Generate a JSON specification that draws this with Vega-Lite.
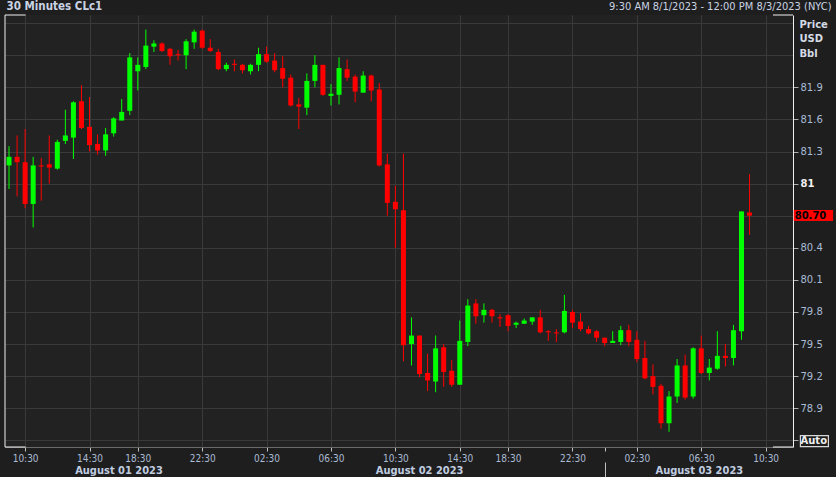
{
  "$schema": "https://vega.github.io/schema/vega-lite/v6.json",
  "width": 788,
  "height": 432,
  "autosize": {"type": "none"},
  "padding": {"left": 5, "top": 15, "right": 43, "bottom": 30},
  "background": "#1e1e1e",
  "view": {"fill": "#222222", "stroke": null},
  "data": {"values": [
    {"i":0,"o":81.17,"h":81.35,"l":80.95,"c":81.25},
    {"i":1,"o":81.25,"h":81.45,"l":80.88,"c":81.20},
    {"i":2,"o":81.20,"h":81.51,"l":80.77,"c":80.81},
    {"i":3,"o":80.81,"h":81.25,"l":80.59,"c":81.17},
    {"i":4,"o":81.17,"h":81.24,"l":80.84,"c":81.16},
    {"i":5,"o":81.18,"h":81.45,"l":81.00,"c":81.15},
    {"i":6,"o":81.14,"h":81.41,"l":81.13,"c":81.39},
    {"i":7,"o":81.40,"h":81.69,"l":81.37,"c":81.45},
    {"i":8,"o":81.43,"h":81.77,"l":81.23,"c":81.76},
    {"i":9,"o":81.77,"h":81.92,"l":81.51,"c":81.52},
    {"i":10,"o":81.53,"h":81.81,"l":81.30,"c":81.36},
    {"i":11,"o":81.37,"h":81.46,"l":81.27,"c":81.31},
    {"i":12,"o":81.31,"h":81.52,"l":81.26,"c":81.46},
    {"i":13,"o":81.47,"h":81.62,"l":81.44,"c":81.61},
    {"i":14,"o":81.59,"h":81.79,"l":81.59,"c":81.67},
    {"i":15,"o":81.68,"h":82.22,"l":81.64,"c":82.18},
    {"i":16,"o":82.05,"h":82.18,"l":81.87,"c":82.11},
    {"i":17,"o":82.09,"h":82.44,"l":82.07,"c":82.29},
    {"i":18,"o":82.28,"h":82.34,"l":82.23,"c":82.31},
    {"i":19,"o":82.31,"h":82.32,"l":82.23,"c":82.24},
    {"i":20,"o":82.26,"h":82.27,"l":82.11,"c":82.19},
    {"i":21,"o":82.21,"h":82.25,"l":82.15,"c":82.20},
    {"i":22,"o":82.20,"h":82.35,"l":82.07,"c":82.33},
    {"i":23,"o":82.32,"h":82.44,"l":82.26,"c":82.42},
    {"i":24,"o":82.43,"h":82.44,"l":82.26,"c":82.27},
    {"i":25,"o":82.27,"h":82.35,"l":82.23,"c":82.24},
    {"i":26,"o":82.23,"h":82.26,"l":82.06,"c":82.07},
    {"i":27,"o":82.07,"h":82.13,"l":82.05,"c":82.11},
    {"i":28,"o":82.12,"h":82.16,"l":82.05,"c":82.11},
    {"i":29,"o":82.11,"h":82.12,"l":82.03,"c":82.06},
    {"i":30,"o":82.05,"h":82.12,"l":82.02,"c":82.11},
    {"i":31,"o":82.11,"h":82.27,"l":82.05,"c":82.21},
    {"i":32,"o":82.21,"h":82.28,"l":82.13,"c":82.14},
    {"i":33,"o":82.15,"h":82.22,"l":82.04,"c":82.06},
    {"i":34,"o":82.08,"h":82.19,"l":81.90,"c":81.98},
    {"i":35,"o":81.99,"h":82.02,"l":81.72,"c":81.73},
    {"i":36,"o":81.74,"h":81.80,"l":81.51,"c":81.72},
    {"i":37,"o":81.71,"h":82.03,"l":81.64,"c":81.96},
    {"i":38,"o":81.96,"h":82.20,"l":81.90,"c":82.11},
    {"i":39,"o":82.11,"h":82.11,"l":81.82,"c":81.83},
    {"i":40,"o":81.82,"h":81.93,"l":81.73,"c":81.84},
    {"i":41,"o":81.83,"h":82.18,"l":81.74,"c":82.08},
    {"i":42,"o":82.07,"h":82.16,"l":81.96,"c":81.99},
    {"i":43,"o":82.00,"h":82.02,"l":81.76,"c":81.86},
    {"i":44,"o":81.85,"h":82.05,"l":81.85,"c":82.01},
    {"i":45,"o":82.01,"h":82.02,"l":81.77,"c":81.87},
    {"i":46,"o":81.88,"h":81.94,"l":81.16,"c":81.17},
    {"i":47,"o":81.18,"h":81.28,"l":80.70,"c":80.82},
    {"i":48,"o":80.83,"h":80.98,"l":80.40,"c":80.76},
    {"i":49,"o":80.75,"h":81.28,"l":79.34,"c":79.49},
    {"i":50,"o":79.50,"h":79.75,"l":79.30,"c":79.58},
    {"i":51,"o":79.58,"h":79.58,"l":79.19,"c":79.22},
    {"i":52,"o":79.23,"h":79.41,"l":79.06,"c":79.16},
    {"i":53,"o":79.15,"h":79.58,"l":79.05,"c":79.46},
    {"i":54,"o":79.47,"h":79.50,"l":79.10,"c":79.24},
    {"i":55,"o":79.25,"h":79.35,"l":79.10,"c":79.12},
    {"i":56,"o":79.12,"h":79.72,"l":79.12,"c":79.53},
    {"i":57,"o":79.52,"h":79.92,"l":79.48,"c":79.86},
    {"i":58,"o":79.88,"h":79.92,"l":79.69,"c":79.76},
    {"i":59,"o":79.77,"h":79.88,"l":79.70,"c":79.82},
    {"i":60,"o":79.82,"h":79.83,"l":79.70,"c":79.76},
    {"i":61,"o":79.75,"h":79.78,"l":79.66,"c":79.74},
    {"i":62,"o":79.77,"h":79.78,"l":79.62,"c":79.67},
    {"i":63,"o":79.68,"h":79.71,"l":79.65,"c":79.70},
    {"i":64,"o":79.69,"h":79.74,"l":79.69,"c":79.72},
    {"i":65,"o":79.71,"h":79.75,"l":79.68,"c":79.75},
    {"i":66,"o":79.75,"h":79.82,"l":79.60,"c":79.61},
    {"i":67,"o":79.62,"h":79.63,"l":79.53,"c":79.61},
    {"i":68,"o":79.61,"h":79.64,"l":79.52,"c":79.60},
    {"i":69,"o":79.61,"h":79.96,"l":79.60,"c":79.81},
    {"i":70,"o":79.80,"h":79.82,"l":79.65,"c":79.70},
    {"i":71,"o":79.71,"h":79.79,"l":79.62,"c":79.64},
    {"i":72,"o":79.64,"h":79.67,"l":79.59,"c":79.60},
    {"i":73,"o":79.62,"h":79.63,"l":79.52,"c":79.56},
    {"i":74,"o":79.56,"h":79.56,"l":79.48,"c":79.51},
    {"i":75,"o":79.51,"h":79.62,"l":79.51,"c":79.53},
    {"i":76,"o":79.52,"h":79.67,"l":79.49,"c":79.63},
    {"i":77,"o":79.63,"h":79.68,"l":79.48,"c":79.52},
    {"i":78,"o":79.54,"h":79.62,"l":79.33,"c":79.36},
    {"i":79,"o":79.37,"h":79.53,"l":79.17,"c":79.18},
    {"i":80,"o":79.20,"h":79.31,"l":79.03,"c":79.10},
    {"i":81,"o":79.11,"h":79.13,"l":78.71,"c":78.76},
    {"i":82,"o":78.76,"h":79.06,"l":78.68,"c":79.01},
    {"i":83,"o":79.01,"h":79.36,"l":78.95,"c":79.30},
    {"i":84,"o":79.30,"h":79.40,"l":78.98,"c":79.00},
    {"i":85,"o":79.01,"h":79.47,"l":78.99,"c":79.46},
    {"i":86,"o":79.46,"h":79.58,"l":79.22,"c":79.23},
    {"i":87,"o":79.23,"h":79.36,"l":79.16,"c":79.28},
    {"i":88,"o":79.27,"h":79.62,"l":79.26,"c":79.39},
    {"i":89,"o":79.39,"h":79.50,"l":79.29,"c":79.37},
    {"i":90,"o":79.37,"h":79.68,"l":79.30,"c":79.63},
    {"i":91,"o":79.62,"h":80.74,"l":79.54,"c":80.74},
    {"i":92,"o":80.73,"h":81.09,"l":80.52,"c":80.70}
  ]},
  "resolve": {"axis": {"x": "independent", "y": "independent"}},
  "layer": [
    {
      "mark": {"type": "rule", "strokeWidth": 1},
      "encoding": {
        "x": {"field": "i", "type": "quantitative", "scale": {"domain": [-0.5, 97.4], "nice": false, "zero": false, "padding": 0},
          "axis": {"orient": "bottom", "title": null, "values": [2,10,16,24,32,40,48,56,62,70,74,78,86,94],
            "labelExpr": "['10:30','14:30','18:30','22:30','02:30','06:30','10:30','14:30','18:30','22:30','','02:30','06:30','10:30'][indexof([2,10,16,24,32,40,48,56,62,70,74,78,86,94], datum.value)]",
            "grid": true, "gridColor": {"condition": {"test": "datum.value == 74", "value": "transparent"}, "value": "#3a3a3a"},
            "domainColor": "#6a6a6a", "tickColor": "#c0c0c0", "tickSize": 4, "labelColor": "#aabbd4",
            "labelFont": "DejaVu Sans Condensed, Liberation Sans Narrow, sans-serif", "labelFontSize": 10, "labelPadding": 2,
            "labelFlush": false, "labelOverlap": false}},
        "y": {"field": "l", "type": "quantitative", "scale": {"domain": [78.538, 82.576], "nice": false, "zero": false},
          "axis": {"orient": "right", "values": [78.6,78.9,79.2,79.5,79.8,80.1,80.4,80.7,81,81.3,81.6,81.9,82.2,82.5],
            "labelExpr": "datum.value == 78.6 ? 'Auto' : (datum.value == 80.7 || datum.value > 82) ? '' : datum.value == 81 ? '81' : format(datum.value, '.1f')",
            "grid": true, "gridColor": "#3a3a3a", "domainColor": "#f0f0f0",
            "tickColor": {"condition": {"test": "datum.value > 82", "value": "transparent"}, "value": "#b0b0b0"},
            "tickSize": 5, "labelPadding": 2, "labelFont": "DejaVu Sans", "labelFontSize": 10,
            "labelColor": {"condition": {"test": "datum.value == 81 || datum.value == 78.6", "value": "#f0f0f0"}, "value": "#a9bcd6"},
            "labelFontWeight": {"condition": {"test": "datum.value == 81 || datum.value == 78.6", "value": "bold"}, "value": "normal"},
            "labelFlush": false, "labelOverlap": false,
            "title": ["Price", "USD", "Bbl"], "titleAngle": 0, "titleX": 6, "titleY": 4, "titleAlign": "left", "titleBaseline": "top",
            "titleFont": "DejaVu Sans", "titleFontSize": 10, "titleFontWeight": "bold", "titleColor": "#d5dbe5", "titleLineHeight": 14.5}},
        "y2": {"field": "h"},
        "color": {"condition": {"test": "datum.c > datum.o", "value": "#00ff00"}, "value": "#ff0000"}
      }
    },
    {
      "mark": {"type": "bar", "width": 5},
      "encoding": {
        "x": {"field": "i", "type": "quantitative",
          "axis": {"orient": "bottom", "offset": 15, "title": null, "values": [13.6, 50.95, 74, 85.7],
            "labelExpr": "datum.value == 13.6 ? 'August 01 2023' : datum.value == 50.95 ? 'August 02 2023' : datum.value == 85.7 ? 'August 03 2023' : ''",
            "domain": false, "grid": false, "ticks": true, "tickSize": 15,
            "tickColor": {"condition": {"test": "datum.value == 74", "value": "#c0c0c0"}, "value": "transparent"},
            "labelBaseline": "middle", "labelPadding": -7,
            "labelFont": "DejaVu Sans Condensed, Liberation Sans Narrow, sans-serif", "labelFontSize": 11, "labelFontWeight": "bold",
            "labelColor": "#c0cde0", "labelFlush": false, "labelOverlap": false}},
        "y": {"field": "o", "type": "quantitative", "axis": null},
        "y2": {"field": "c"},
        "color": {"condition": {"test": "datum.c > datum.o", "value": "#00ff00"}, "value": "#ff0000"}
      }
    },
    {
      "transform": [{"filter": "datum.i == 92"}],
      "mark": {"type": "rect", "color": "#ff0000"},
      "encoding": {
        "x": {"datum": 97.49, "type": "quantitative",
          "axis": {"orient": "top", "domain": false, "ticks": false, "labels": false, "grid": false,
            "title": "9:30 AM 8/1/2023 - 12:00 PM 8/3/2023 (NYC)", "titleX": 826, "titleY": -9, "titleAlign": "right", "titleBaseline": "middle",
            "titleFont": "DejaVu Sans Condensed, Liberation Sans Narrow, sans-serif", "titleFontSize": 11, "titleFontWeight": "normal", "titleColor": "#c9d3e3"}},
        "x2": {"datum": 102.38},
        "y": {"datum": 80.753, "type": "quantitative", "axis": null},
        "y2": {"datum": 80.65}
      }
    },
    {
      "transform": [{"filter": "datum.i == 92"}],
      "mark": {"type": "text", "align": "left", "baseline": "middle", "font": "DejaVu Sans", "fontSize": 10, "fontWeight": "bold", "color": "#000000"},
      "encoding": {
        "x": {"datum": 97.61, "type": "quantitative",
          "axis": {"orient": "top", "domain": false, "ticks": false, "labels": false, "grid": false,
            "title": "30 Minutes CLc1", "titleX": 1, "titleY": -9, "titleAlign": "left", "titleBaseline": "middle",
            "titleFont": "DejaVu Sans Condensed, Liberation Sans Narrow, sans-serif", "titleFontSize": 11.5, "titleFontWeight": "bold", "titleColor": "#c9d3e3"}},
        "y": {"field": "c", "type": "quantitative", "axis": null},
        "text": {"field": "c", "type": "quantitative", "format": ".2f"}
      }
    },
    {
      "transform": [{"filter": "datum.i == 92"}],
      "mark": {"type": "rect", "filled": false, "stroke": "#d8d8d8", "strokeWidth": 1.2},
      "encoding": {
        "x": {"datum": 98.32, "type": "quantitative", "axis": null},
        "x2": {"datum": 101.8},
        "y": {"datum": 78.644, "type": "quantitative", "axis": null},
        "y2": {"datum": 78.541}
      }
    },
    {
      "transform": [{"filter": "datum.i == 92"}],
      "mark": {"type": "rule", "color": "#f0f0f0", "strokeWidth": 1},
      "encoding": {
        "x": {"datum": -0.5, "type": "quantitative", "axis": null},
        "y": {"datum": 78.538, "type": "quantitative", "axis": null},
        "y2": {"datum": 82.576}
      }
    },
    {
      "transform": [{"filter": "datum.i == 92"}],
      "mark": {"type": "rule", "color": "#f0f0f0", "strokeWidth": 1},
      "encoding": {
        "x": {"datum": -0.5, "type": "quantitative", "axis": null},
        "x2": {"datum": 2.07},
        "y": {"datum": 82.576, "type": "quantitative", "axis": null}
      }
    },
    {
      "transform": [{"filter": "datum.i == 92"}],
      "mark": {"type": "rule", "color": "#f0f0f0", "strokeWidth": 1},
      "encoding": {
        "x": {"datum": -0.5, "type": "quantitative", "axis": null},
        "x2": {"datum": 2.07},
        "y": {"datum": 78.538, "type": "quantitative", "axis": null}
      }
    },
    {
      "transform": [{"filter": "datum.i == 92"}],
      "mark": {"type": "rule", "color": "#f0f0f0", "strokeWidth": 1},
      "encoding": {
        "x": {"datum": 94.91, "type": "quantitative", "axis": null},
        "x2": {"datum": 97.4},
        "y": {"datum": 82.576, "type": "quantitative", "axis": null}
      }
    },
    {
      "transform": [{"filter": "datum.i == 92"}],
      "mark": {"type": "rule", "color": "#f0f0f0", "strokeWidth": 1},
      "encoding": {
        "x": {"datum": 94.91, "type": "quantitative", "axis": null},
        "x2": {"datum": 97.4},
        "y": {"datum": 78.538, "type": "quantitative", "axis": null}
      }
    }
  ]
}
